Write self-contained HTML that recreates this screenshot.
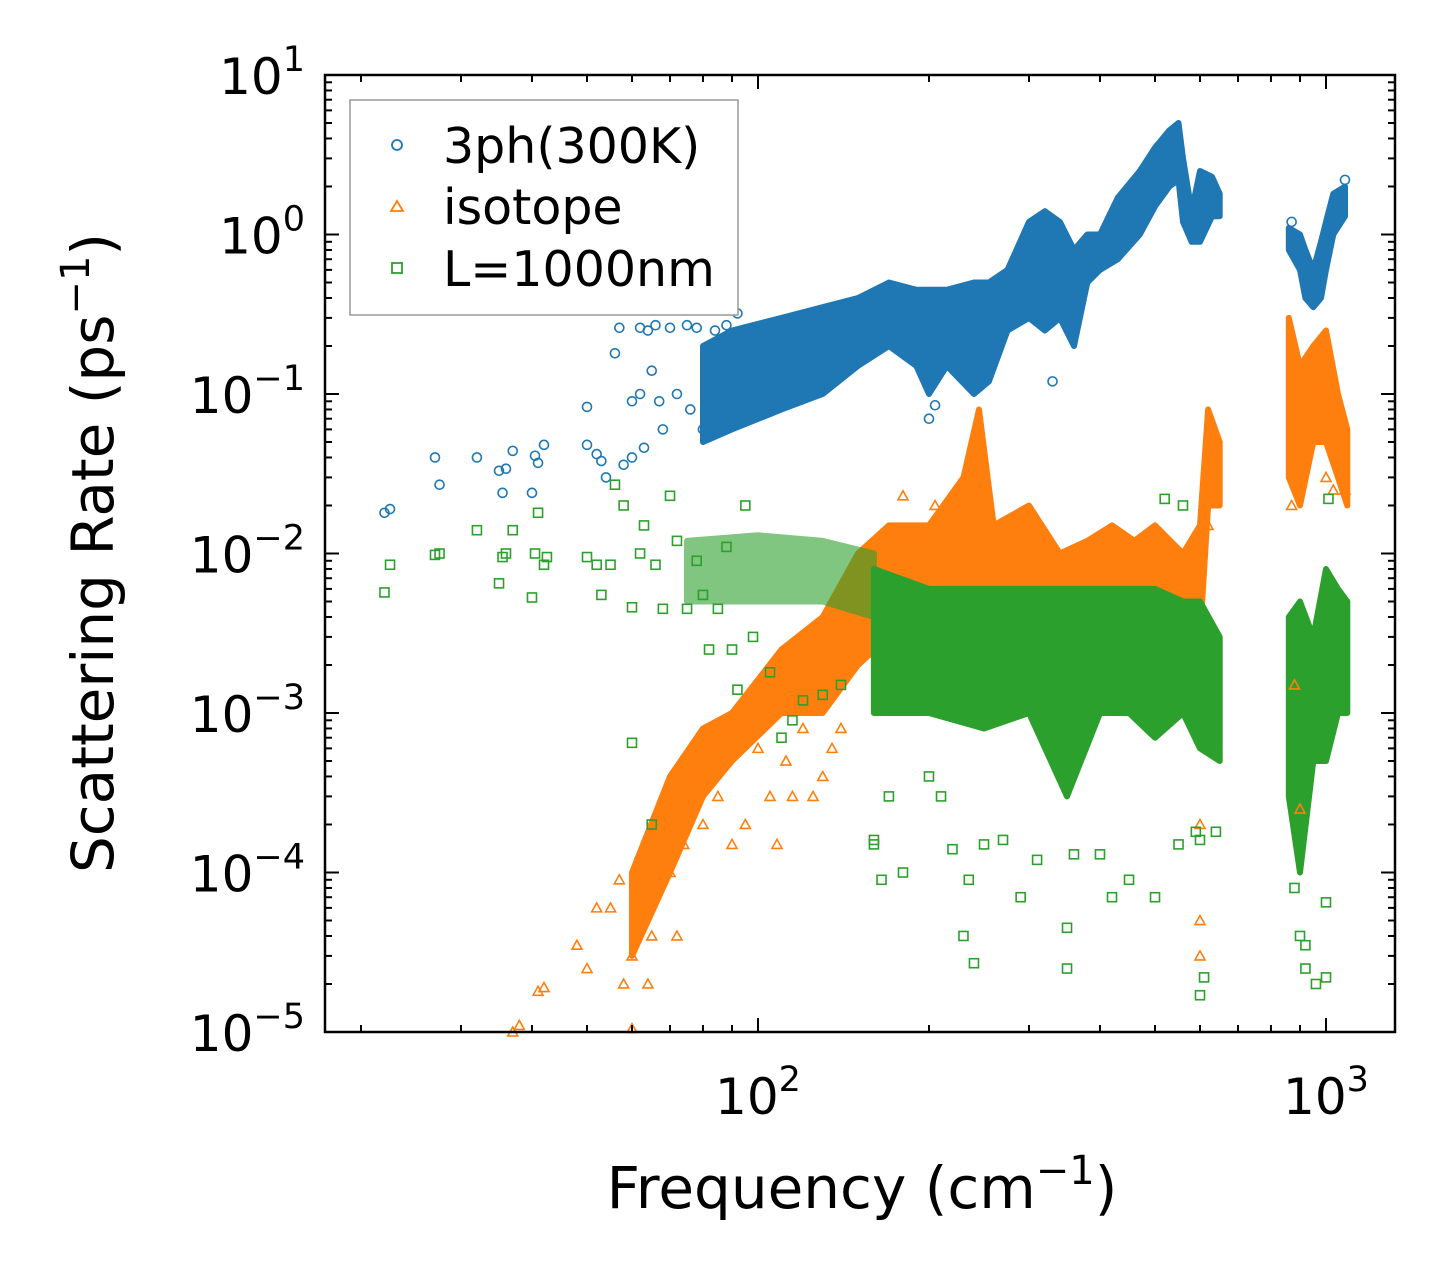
<!DOCTYPE html>
<html><head><meta charset="utf-8"><style>
body{margin:0;background:#fff}
svg{display:block;font-family:"DejaVu Sans","Liberation Sans",sans-serif}
</style></head><body>
<svg id="chart" width="1455" height="1282" viewBox="0 0 1455 1282">
<g id="bands"></g>
<g id="points"></g>
<g id="axes"></g>
<text x="862" y="1208" font-size="58" text-anchor="middle">Frequency (cm<tspan dy="-24" font-size="40">−1</tspan><tspan dy="24">)</tspan></text>
<text transform="translate(113,553) rotate(-90)" font-size="58" text-anchor="middle">Scattering Rate (ps<tspan dy="-24" font-size="40">−1</tspan><tspan dy="24">)</tspan></text>
<g>
<rect x="350" y="100" width="388" height="215" fill="#fff" stroke="#999" stroke-width="1.5"/>
<circle cx="397" cy="145" r="5" fill="none" stroke="#1f77b4" stroke-width="1.8"/>
<text x="443" y="163" font-size="49">3ph(300K)</text>
<polygon points="397,201 403,211 391,211" fill="none" stroke="#ff7f0e" stroke-width="1.8"/>
<text x="443" y="224" font-size="49">isotope</text>
<rect x="392" y="263" width="10" height="10" fill="none" stroke="#2ca02c" stroke-width="1.8"/>
<text x="443" y="286" font-size="49">L=1000nm</text>
</g>
</svg>
<script>
const xTickValues=[100,1000];
const yTickExps=[1,0,-1,-2,-3,-4,-5];
const blueBand1=[[80,0.05,0.2],[90,0.06,0.25],[110,0.08,0.3],[130,0.1,0.35],[150,0.15,0.4],[170,0.2,0.5],[190,0.15,0.45],[200,0.1,0.45],[215,0.15,0.45],[240,0.1,0.5],[255,0.12,0.5],[275,0.25,0.6],[300,0.3,1.2],[320,0.25,1.4],[340,0.3,1.2],[360,0.2,0.8],[380,0.5,1.0],[400,0.6,1.0],[430,0.7,1.7],[470,1.0,2.5],[500,1.5,3.5],[530,2,4.5],[550,2.2,5],[560,1.2,3],[580,0.9,1.4],[600,0.9,2.5],[630,1.3,2.3],[650,1.3,1.8]];
const blueBand2=[[860,0.8,1.1],[900,0.6,1.0],[920,0.4,0.8],[950,0.35,0.6],[980,0.4,0.9],[1000,0.6,1.2],[1030,1.0,1.8],[1080,1.3,2.0]];
const orangeBand1=[[60,0.00003,0.0001],[70,0.0001,0.0004],[80,0.0003,0.0008],[90,0.0005,0.001],[110,0.001,0.0025],[130,0.001,0.004],[150,0.002,0.01],[170,0.003,0.015],[200,0.003,0.015],[230,0.003,0.03],[245,0.005,0.08],[260,0.003,0.015],[300,0.003,0.02],[340,0.002,0.01],[380,0.002,0.012],[420,0.002,0.015],[460,0.002,0.012],[500,0.002,0.015],[560,0.002,0.01],[600,0.003,0.015],[620,0.02,0.08],[650,0.02,0.05]];
const orangeBand2=[[860,0.03,0.3],[900,0.02,0.15],[950,0.05,0.2],[1000,0.05,0.25],[1050,0.03,0.1],[1090,0.02,0.06]];
const greenBandSparse=[[75,0.005,0.012],[100,0.005,0.013],[130,0.005,0.012],[160,0.004,0.01]];
const greenBand1=[[160,0.001,0.008],[200,0.001,0.006],[250,0.0008,0.006],[300,0.001,0.006],[350,0.0003,0.006],[400,0.001,0.006],[450,0.001,0.006],[500,0.0007,0.006],[560,0.001,0.005],[600,0.0006,0.005],[650,0.0005,0.003]];
const greenBand2=[[860,0.0003,0.004],[900,0.0001,0.005],[950,0.0005,0.003],[1000,0.0005,0.008],[1050,0.001,0.006],[1090,0.001,0.005]];
const bluePts=[[22,0.018],[22.5,0.019],[27,0.04],[27.5,0.027],[32,0.04],[35,0.033],[35.5,0.024],[36,0.034],[37,0.044],[40,0.024],[40.5,0.041],[41,0.037],[42,0.048],[50,0.083],[50,0.048],[52,0.042],[53,0.038],[54,0.03],[56,0.18],[57,0.26],[58,0.036],[60,0.09],[60,0.04],[62,0.26],[62,0.1],[63,0.046],[64,0.25],[65,0.14],[66,0.27],[67,0.09],[68,0.06],[70,0.26],[72,0.1],[75,0.27],[76,0.08],[78,0.26],[80,0.06],[82,0.2],[84,0.25],[85,0.13],[88,0.27],[90,0.07],[92,0.32],[95,0.15],[96,0.24],[120,0.3],[200,0.07],[205,0.085],[330,0.12],[870,1.2],[1080,2.2]];
const orangePts=[[37,1e-5],[38,1.1e-5],[41,1.8e-5],[42,1.9e-5],[48,3.5e-5],[50,2.5e-5],[52,6e-5],[55,6e-5],[57,9e-5],[58,2e-5],[60,3e-5],[60,1.05e-5],[62,1.3e-4],[64,2e-5],[65,4e-5],[66,2e-4],[68,2.5e-4],[70,1e-4],[72,4e-5],[74,1.5e-4],[75,3e-4],[78,4e-4],[80,2e-4],[82,6e-4],[85,3e-4],[88,5e-4],[90,1.5e-4],[92,8e-4],[95,2e-4],[100,6e-4],[105,3e-4],[108,1.5e-4],[112,5e-4],[115,3e-4],[120,8e-4],[125,3e-4],[130,4e-4],[135,6e-4],[140,8e-4],[180,0.023],[205,0.02],[600,5e-5],[600,3e-5],[600,2e-4],[620,0.015],[870,0.02],[900,0.00025],[1000,0.03],[1030,0.025],[1080,0.025],[880,0.0015]];
const greenPts=[[22,0.0057],[22.5,0.0085],[27,0.0098],[27.5,0.01],[32,0.014],[35,0.0065],[35.5,0.0095],[36,0.01],[37,0.014],[40,0.0053],[40.5,0.01],[41,0.018],[42,0.0085],[42.5,0.0095],[50,0.0095],[52,0.0085],[53,0.0055],[55,0.0085],[56,0.027],[58,0.02],[60,0.0046],[60,0.00065],[62,0.01],[63,0.015],[65,0.0002],[66,0.0085],[68,0.0045],[70,0.023],[72,0.012],[75,0.0045],[78,0.009],[80,0.0055],[82,0.0025],[85,0.0045],[88,0.011],[90,0.0025],[92,0.0014],[95,0.02],[98,0.003],[105,0.0018],[110,0.0007],[115,0.0009],[120,0.0012],[130,0.0013],[140,0.0015],[160,0.00015],[160,0.00016],[165,0.00009],[170,0.0003],[180,0.0001],[200,0.0004],[210,0.0003],[220,0.00014],[230,0.00004],[235,0.00009],[240,0.000027],[250,0.00015],[270,0.00016],[290,0.00007],[310,0.00012],[350,0.000045],[350,0.000025],[360,0.00013],[400,0.00013],[420,0.00007],[450,0.00009],[500,0.00007],[550,0.00015],[590,0.00018],[600,0.00016],[610,0.000022],[600,0.000017],[640,0.00018],[880,0.00008],[900,0.00004],[920,0.000025],[920,0.000035],[960,0.00002],[1000,0.000065],[1000,0.000022],[520,0.022],[560,0.02],[1010,0.022],[1050,0.002]];

const L=325,R=1395,T=75,B=1032;
const X=f=>758+568*(Math.log10(f)-2);
const Y=v=>75+159.5*(1-Math.log10(v));
const NS='http://www.w3.org/2000/svg';
function mk(tag,parent){const e=document.createElementNS(NS,tag);parent.appendChild(e);return e;}
const bands=document.getElementById('bands'),pts=document.getElementById('points'),axes=document.getElementById('axes');

function band(arr,color,name,op){
  const p=mk('polygon',bands);
  const top=arr.map(d=>X(d[0]).toFixed(1)+','+Y(d[2]).toFixed(1));
  const bot=arr.slice().reverse().map(d=>X(d[0]).toFixed(1)+','+Y(d[1]).toFixed(1));
  p.setAttribute('points',top.concat(bot).join(' '));
  p.setAttribute('fill',color);p.setAttribute('stroke',color);p.setAttribute('stroke-width','6');p.setAttribute('stroke-linejoin','round');
  p.setAttribute('opacity',op);
  
  
}
band(orangeBand1,'#ff7f0e','isotope-band-low',1);
band(orangeBand2,'#ff7f0e','isotope-band-high',1);
band(greenBandSparse,'#2ca02c','boundary-band-sparse',0.6);
band(greenBand1,'#2ca02c','boundary-band-low',1);
band(greenBand2,'#2ca02c','boundary-band-high',1);
band(blueBand1,'#1f77b4','3ph-band-low',1);
band(blueBand2,'#1f77b4','3ph-band-high',1);

bluePts.forEach(d=>{const c=mk('circle',pts);c.setAttribute('cx',X(d[0]));c.setAttribute('cy',Y(d[1]));c.setAttribute('r',4.5);c.setAttribute('fill','none');c.setAttribute('stroke','#1f77b4');c.setAttribute('stroke-width','1.6');

});
orangePts.forEach(d=>{const x=X(d[0]),y=Y(d[1]);const c=mk('polygon',pts);c.setAttribute('points',`${x},${y-5} ${x+5},${y+4} ${x-5},${y+4}`);c.setAttribute('fill','none');c.setAttribute('stroke','#ff7f0e');c.setAttribute('stroke-width','1.6');

});
greenPts.forEach(d=>{const x=X(d[0]),y=Y(d[1]);const c=mk('rect',pts);c.setAttribute('x',x-4.5);c.setAttribute('y',y-4.5);c.setAttribute('width',9);c.setAttribute('height',9);c.setAttribute('fill','none');c.setAttribute('stroke','#2ca02c');c.setAttribute('stroke-width','1.6');

});

function line(x1,y1,x2,y2,w,name){const l=mk('line',axes);l.setAttribute('x1',x1);l.setAttribute('y1',y1);l.setAttribute('x2',x2);l.setAttribute('y2',y2);l.setAttribute('stroke','#000');l.setAttribute('stroke-width',w);

}
for(let dec=10;dec<=1000;dec*=10){for(let m=1;m<10;m++){const f=dec*m,x=X(f);if(x<L||x>R)continue;const len=m===1?14:7;line(x,B,x,B-len,2,'x-tick');line(x,T,x,T+len,2,'x-tick');}}
xTickValues.forEach(v=>{const t=mk('text',axes);t.setAttribute('x',X(v));t.setAttribute('y',1114);t.setAttribute('font-size','50');t.setAttribute('text-anchor','middle');


t.innerHTML='10<tspan dy="-23" font-size="35">'+Math.log10(v)+'</tspan>';});
for(let e=-5;e<=1;e++){for(let m=1;m<10;m++){const v=m*Math.pow(10,e),y=Y(v);if(y<T-0.5||y>B+0.5)continue;const len=m===1?14:7;line(L,y,L+len,y,2,'y-tick');line(R,y,R-len,y,2,'y-tick');}}
yTickExps.forEach(e=>{const t=mk('text',axes);t.setAttribute('x',305);t.setAttribute('y',Y(Math.pow(10,e))+19);t.setAttribute('font-size','50');t.setAttribute('text-anchor','end');


t.innerHTML='10<tspan dy="-23" font-size="35">'+(e<0?'−'+(-e):e)+'</tspan>';});
const fr=mk('rect',axes);fr.setAttribute('x',L);fr.setAttribute('y',T);fr.setAttribute('width',R-L);fr.setAttribute('height',B-T);fr.setAttribute('fill','none');fr.setAttribute('stroke','#000');fr.setAttribute('stroke-width','2.5');


</script>
</body></html>
